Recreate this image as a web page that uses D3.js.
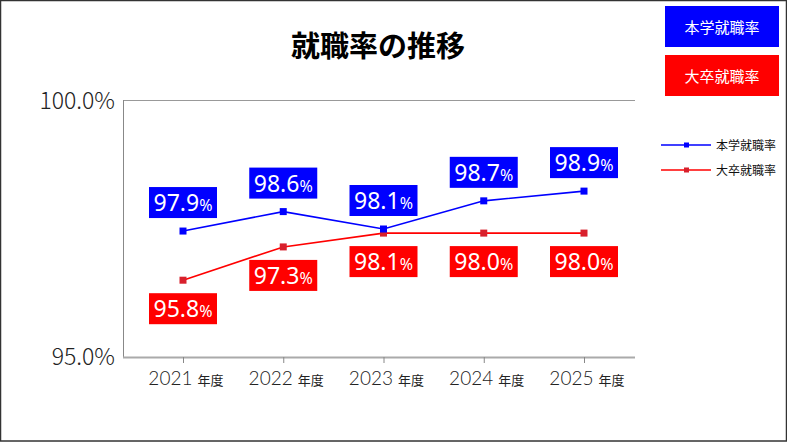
<!DOCTYPE html>
<html lang="ja">
  <head>
    <meta charset="UTF-8" />
    <title>就職率の推移</title>
    <script src="https://d3js.org/d3.v7.min.js"></script>
    <style>
      body { margin: 0; background: #fff; }
      text { font-family: "Noto Sans CJK JP", "Noto Sans", sans-serif; }
    </style>
  </head>
  <body>
    <svg width="787" height="442" id="chart"></svg>

    <script>
      // data
      const years = ["2021", "2022", "2023", "2024", "2025"];
      const seriesNames = ["本学就職率", "大卒就職率"];
      const ownValues = [97.46, 97.84, 97.5, 98.05, 98.24];
      const natValues = [96.5, 97.15, 97.42, 97.42, 97.42];
      const ownLabels = ["97.9", "98.6", "98.1", "98.7", "98.9"];
      const natLabels = ["95.8", "97.3", "98.1", "98.0", "98.0"];
      const yTicks = [95, 100];

      const blue = "#0000ff";
      const red = "#ff0000";

      const svg = d3.select("#chart");
      const W = 787, H = 442;

      // outer frame
      svg.append("rect")
        .attr("x", 0.5).attr("y", 0.5)
        .attr("width", W - 1).attr("height", H - 1.5)
        .attr("fill", "#fff").attr("stroke", "#333").attr("stroke-width", 1.5);

      svg.append("text")
        .attr("x", 378).attr("y", 57)
        .attr("text-anchor", "middle")
        .attr("font-size", 29).attr("font-weight", "bold")
        .text("就職率の推移");

      const pLeft = 123, pRight = 635, pTop = 100, pBottom = 357;

      const x = d3.scalePoint().domain(years).range([183, 584]);
      const y = d3.scaleLinear().domain([95, 100]).range([pBottom, pTop + 1]);

      // frame lines
      svg.append("line").attr("x1", pLeft).attr("x2", pRight)
        .attr("y1", pTop + 0.5).attr("y2", pTop + 0.5)
        .attr("stroke", "#999").attr("stroke-width", 1);
      svg.append("line").attr("x1", pLeft + 0.5).attr("x2", pLeft + 0.5)
        .attr("y1", pTop).attr("y2", pBottom)
        .attr("stroke", "#888").attr("stroke-width", 1);

      const xAxis = svg.append("g")
        .attr("transform", `translate(0,${pBottom})`)
        .call(d3.axisBottom(x).tickSize(6).tickSizeOuter(0).tickFormat(""));
      xAxis.select(".domain").attr("d", `M${pLeft},0.5H${pRight}`)
        .attr("stroke", "#aaa").attr("stroke-width", 2);
      xAxis.selectAll(".tick line").attr("stroke", "#888");

      // x labels
      const xl = svg.append("g").selectAll("text").data(years).join("text")
        .attr("x", (d) => x(d) + 3)
        .attr("y", 385)
        .attr("text-anchor", "middle")
        .attr("fill", "#222");
      xl.append("tspan").attr("font-size", 19).attr("font-family", "Lato, sans-serif")
        .attr("font-weight", 300).text((d) => d + " ");
      xl.append("tspan").attr("font-size", 13).text("年度");

      // y labels
      svg.append("g").selectAll("text").data(yTicks).join("text")
        .attr("x", 115)
        .attr("y", (d) => y(d) + 8)
        .attr("text-anchor", "end")
        .attr("font-size", 23)
        .attr("font-family", "Lato, sans-serif")
        .attr("font-weight", 300)
        .attr("fill", "#222")
        .text((d) => d.toFixed(1) + "%");

      const line = d3.line().x((d, i) => x(years[i])).y((d) => y(d));

      function drawSeries(vals, color, markColor) {
        svg.append("path").datum(vals)
          .attr("d", line).attr("fill", "none")
          .attr("stroke", color).attr("stroke-width", 1.6);
        svg.append("g").selectAll("rect").data(vals).join("rect")
          .attr("x", (d, i) => x(years[i]) - 3.5)
          .attr("y", (d) => y(d) - 3.5)
          .attr("width", 7).attr("height", 7)
          .attr("fill", markColor);
      }
      drawSeries(natValues, red, "#d8202c");
      drawSeries(ownValues, blue, blue);

      function drawLabels(vals, labels, color, above) {
        const g = svg.append("g").selectAll("g").data(vals).join("g")
          .attr("transform", (d, i) => {
            const cy = above ? y(d) - 13 - 31 : y(d) + 13;
            return `translate(${x(years[i])},${cy})`;
          });
        g.append("rect")
          .attr("x", -34).attr("y", 0)
          .attr("width", 68).attr("height", 31)
          .attr("fill", color);
        const t = g.append("text")
          .attr("x", 0).attr("y", 24)
          .attr("text-anchor", "middle")
          .attr("fill", "#fff");
        t.append("tspan").attr("font-size", 23).attr("font-family", "'Noto Sans', sans-serif")
          .text((d, i) => labels[i]);
        t.append("tspan").attr("font-size", 16).attr("font-family", "'Noto Sans', sans-serif")
          .text("%");
      }
      drawLabels(ownValues, ownLabels, blue, true);
      drawLabels(natValues, natLabels, red, false);

      // top-right legend boxes
      const colors = [blue, red];
      const box = svg.append("g").selectAll("g").data(seriesNames).join("g")
        .attr("transform", (d, i) => `translate(665,${6 + i * 49})`);
      box.append("rect").attr("width", 114).attr("height", 41)
        .attr("fill", (d, i) => colors[i]);
      box.append("text").attr("x", 57).attr("y", 27)
        .attr("text-anchor", "middle").attr("font-size", 15)
        .attr("fill", "#fff").text((d) => d);

      // line legend
      const markColors = [blue, "#d8202c"];
      const lg = svg.append("g").selectAll("g").data(seriesNames).join("g")
        .attr("transform", (d, i) => `translate(661,${145 + i * 25})`);
      lg.append("line").attr("x1", 0).attr("x2", 50)
        .attr("stroke", (d, i) => colors[i]).attr("stroke-width", 1.3);
      lg.append("rect").attr("x", 23).attr("y", -2.5).attr("width", 5).attr("height", 5)
        .attr("fill", (d, i) => markColors[i]);
      lg.append("text").attr("x", 55).attr("y", 4.5)
        .attr("font-size", 12).attr("fill", "#111").text((d) => d);
    </script>
  </body>
</html>
